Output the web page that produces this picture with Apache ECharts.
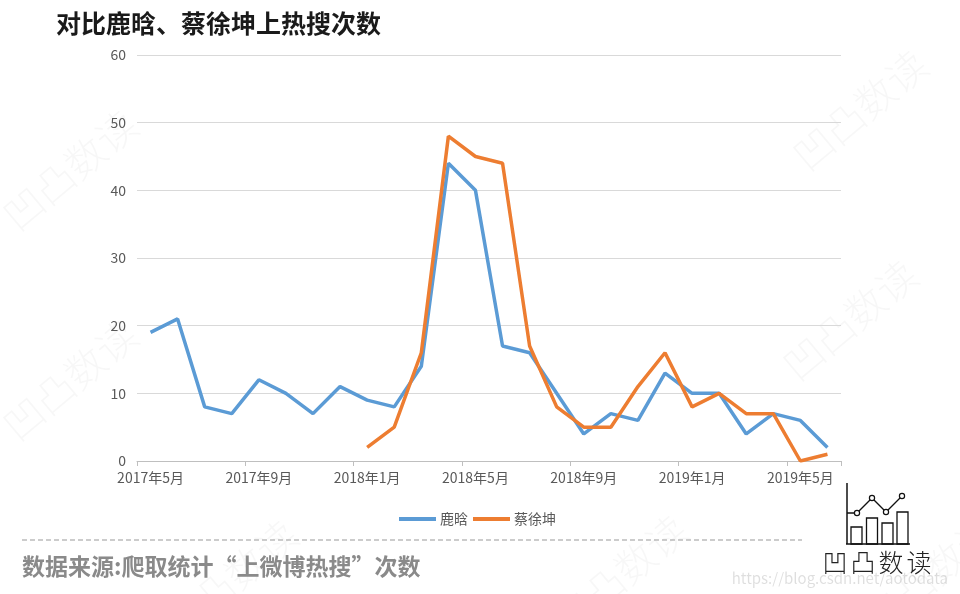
<!DOCTYPE html>
<html>
<head>
<meta charset="utf-8">
<script src="https://cdn.jsdelivr.net/npm/echarts@6/dist/echarts.min.js"></script>
<style>
html,body{margin:0;padding:0;background:#fff;}
#chart{width:960px;height:594px;}
</style>
</head>
<body>
<div id="chart"></div>
<script>
var categories = ['2017年5月','2017年6月','2017年7月','2017年8月','2017年9月','2017年10月','2017年11月','2017年12月',
  '2018年1月','2018年2月','2018年3月','2018年4月','2018年5月','2018年6月','2018年7月','2018年8月','2018年9月','2018年10月','2018年11月','2018年12月',
  '2019年1月','2019年2月','2019年3月','2019年4月','2019年5月','2019年6月'];
var luhan = [19,21,8,7,12,10,7,11,9,8,14,44,40,17,16,10,4,7,6,13,10,10,4,7,6,2];
var caixukun = [null,null,null,null,null,null,null,null,2,5,16,48,45,44,17,8,5,5,11,16,8,10,7,7,0,1];
var seriesNames = ['鹿晗','蔡徐坤'];
var titleText = '对比鹿晗、蔡徐坤上热搜次数';
var sourceText = '数据来源:爬取统计“上微博热搜”次数';

var FONT = '"Noto Sans CJK SC","Noto Sans",sans-serif';
var chart = echarts.init(document.getElementById('chart'));

var wm = [];
var wmPos = [[70,170],[860,110],[850,320],[70,380],[230,580],[620,575],[930,575]];
wmPos.forEach(function(p){
  wm.push({type:'text', x:p[0], y:p[1], rotation:Math.PI/4.5, silent:true, z:-1,
    style:{text:'凹凸数读', fill:'rgba(0,0,0,0.03)', font:'300 40px '+FONT, textAlign:'center', textVerticalAlign:'middle'}});
});

var logo = [
  {type:'line', shape:{x1:847,y1:483,x2:847,y2:544}, style:{stroke:'#111',lineWidth:1.5}},
  {type:'line', shape:{x1:846,y1:544,x2:910,y2:544}, style:{stroke:'#111',lineWidth:1.5}},
  {type:'rect', shape:{x:851,y:527,width:11,height:17}, style:{fill:'none',stroke:'#111',lineWidth:1.3}},
  {type:'rect', shape:{x:866.5,y:518,width:11,height:26}, style:{fill:'none',stroke:'#111',lineWidth:1.3}},
  {type:'rect', shape:{x:882,y:523,width:11,height:21}, style:{fill:'none',stroke:'#111',lineWidth:1.3}},
  {type:'rect', shape:{x:897,y:512,width:11,height:32}, style:{fill:'none',stroke:'#111',lineWidth:1.3}},
  {type:'polyline', shape:{points:[[847,513],[857,513],[872,498],[886,512],[902,496]]}, style:{stroke:'#111',lineWidth:1.3,fill:'none'}},
  {type:'circle', shape:{cx:857,cy:513,r:2.6}, style:{fill:'#fff',stroke:'#111',lineWidth:1.2}},
  {type:'circle', shape:{cx:872,cy:498,r:2.6}, style:{fill:'#fff',stroke:'#111',lineWidth:1.2}},
  {type:'circle', shape:{cx:886,cy:512,r:2.6}, style:{fill:'#fff',stroke:'#111',lineWidth:1.2}},
  {type:'circle', shape:{cx:902,cy:496,r:2.6}, style:{fill:'#fff',stroke:'#111',lineWidth:1.2}}
];
['凹','凸','数','读'].forEach(function(c,i){
  logo.push({type:'text', x:835+i*28, y:562, style:{text:c, fill:'#222', font:'300 25px '+FONT, textAlign:'center', textVerticalAlign:'middle'}});
});

var option = {
  backgroundColor:'#ffffff',
  animation:false,
  title:{text:titleText, left:51, top:6,
    textStyle:{fontFamily:FONT, fontSize:25, fontWeight:'bold', color:'#1a1a1a'}},
  legend:{data:seriesNames, bottom:63, left:394, itemWidth:37, itemHeight:4, itemGap:5,
    icon:'rect',
    textStyle:{fontFamily:FONT, fontSize:14, color:'#595959', padding:[0,0,0,-1]}},
  grid:{left:137, right:119, top:55, bottom:133, containLabel:false},
  xAxis:{type:'category', data:categories, boundaryGap:true,
    axisLine:{lineStyle:{color:'#bfbfbf', width:1}},
    axisTick:{show:true, interval:3, length:5, lineStyle:{color:'#bfbfbf'}},
    axisLabel:{interval:3, color:'#595959', fontFamily:FONT, fontSize:14, margin:10}},
  yAxis:{type:'value', min:0, max:60, interval:10,
    axisLine:{show:false}, axisTick:{show:false},
    axisLabel:{color:'#595959', fontFamily:FONT, fontSize:14, margin:11},
    splitLine:{lineStyle:{color:'#d9d9d9', width:1}}},
  series:[
    {name:seriesNames[0], type:'line', data:luhan, symbol:'none', connectNulls:false,
      itemStyle:{color:'#5b9bd5'}, lineStyle:{color:'#5b9bd5', width:3.5}, z:2},
    {name:seriesNames[1], type:'line', data:caixukun, symbol:'none', connectNulls:false,
      itemStyle:{color:'#ed7d31'}, lineStyle:{color:'#ed7d31', width:3.5}, z:3}
  ],
  graphic:[].concat(wm, logo, [
    {type:'line', shape:{x1:22,y1:540,x2:802,y2:540}, style:{stroke:'#9a9a9a', lineWidth:1.2, lineDash:[5,3]}},
    {type:'text', x:22, y:566, style:{text:sourceText, fill:'#8a8a8a', font:'bold 23px '+FONT, textVerticalAlign:'middle'}},
    {type:'text', x:948, y:578, style:{text:'https://blog.csdn.net/aotodata', fill:'rgba(0,0,0,0.13)', font:'15px '+FONT, textAlign:'right', textVerticalAlign:'middle'}}
  ])
};
chart.setOption(option);
</script>
</body>
</html>
